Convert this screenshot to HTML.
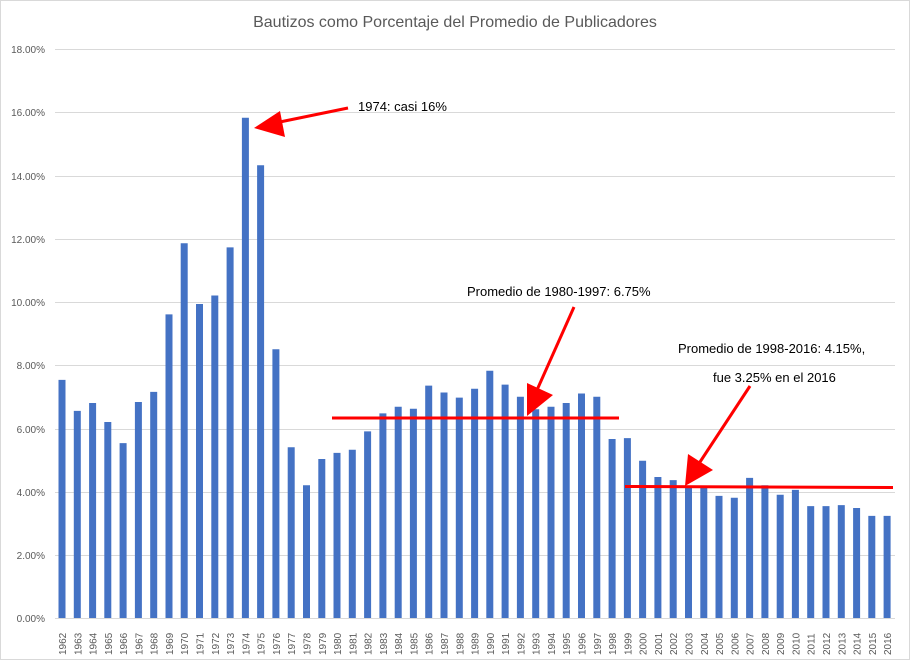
<!DOCTYPE html>
<html><head><meta charset="utf-8"><style>html,body{margin:0;padding:0;background:#fff}svg{display:block}</style></head>
<body>
<svg width="910" height="660" viewBox="0 0 910 660" xmlns="http://www.w3.org/2000/svg" font-family="Liberation Sans, Arial, sans-serif">
<rect x="0.5" y="0.5" width="909" height="659" fill="#fff" stroke="#d9d9d9"/>
<text x="455" y="27" text-anchor="middle" font-size="16" fill="#595959">Bautizos como Porcentaje del Promedio de Publicadores</text>
<g stroke="#d9d9d9" stroke-width="1">
<line x1="55" x2="895" y1="49.5" y2="49.5"/><line x1="55" x2="895" y1="112.5" y2="112.5"/><line x1="55" x2="895" y1="176.5" y2="176.5"/><line x1="55" x2="895" y1="239.5" y2="239.5"/><line x1="55" x2="895" y1="302.5" y2="302.5"/><line x1="55" x2="895" y1="365.5" y2="365.5"/><line x1="55" x2="895" y1="429.5" y2="429.5"/><line x1="55" x2="895" y1="492.5" y2="492.5"/><line x1="55" x2="895" y1="555.5" y2="555.5"/><line x1="55" x2="895" y1="618.5" y2="618.5"/>
</g>
<g font-size="10" fill="#595959" text-anchor="end">
<text x="45" y="53">18.00%</text><text x="45" y="116">16.00%</text><text x="45" y="180">14.00%</text><text x="45" y="243">12.00%</text><text x="45" y="306">10.00%</text><text x="45" y="369">8.00%</text><text x="45" y="433">6.00%</text><text x="45" y="496">4.00%</text><text x="45" y="559">2.00%</text><text x="45" y="622">0.00%</text>
</g>
<g stroke="#4472c4" stroke-width="7">
<line x1="62" x2="62" y1="618" y2="379.9"/>
<line x1="77.3" x2="77.3" y1="618" y2="410.9"/>
<line x1="92.6" x2="92.6" y1="618" y2="403"/>
<line x1="107.8" x2="107.8" y1="618" y2="422"/>
<line x1="123.1" x2="123.1" y1="618" y2="443.1"/>
<line x1="138.4" x2="138.4" y1="618" y2="402"/>
<line x1="153.7" x2="153.7" y1="618" y2="391.9"/>
<line x1="169" x2="169" y1="618" y2="314.4"/>
<line x1="184.2" x2="184.2" y1="618" y2="243.3"/>
<line x1="199.5" x2="199.5" y1="618" y2="304"/>
<line x1="214.8" x2="214.8" y1="618" y2="295.5"/>
<line x1="230.1" x2="230.1" y1="618" y2="247.4"/>
<line x1="245.4" x2="245.4" y1="618" y2="117.8"/>
<line x1="260.6" x2="260.6" y1="618" y2="165.2"/>
<line x1="275.9" x2="275.9" y1="618" y2="349.2"/>
<line x1="291.2" x2="291.2" y1="618" y2="447.3"/>
<line x1="306.5" x2="306.5" y1="618" y2="485.2"/>
<line x1="321.8" x2="321.8" y1="618" y2="459"/>
<line x1="337" x2="337" y1="618" y2="452.9"/>
<line x1="352.3" x2="352.3" y1="618" y2="449.8"/>
<line x1="367.6" x2="367.6" y1="618" y2="431.4"/>
<line x1="382.9" x2="382.9" y1="618" y2="413.4"/>
<line x1="398.2" x2="398.2" y1="618" y2="406.8"/>
<line x1="413.4" x2="413.4" y1="618" y2="408.7"/>
<line x1="428.7" x2="428.7" y1="618" y2="385.6"/>
<line x1="444" x2="444" y1="618" y2="392.5"/>
<line x1="459.3" x2="459.3" y1="618" y2="397.6"/>
<line x1="474.6" x2="474.6" y1="618" y2="388.8"/>
<line x1="489.8" x2="489.8" y1="618" y2="370.7"/>
<line x1="505.1" x2="505.1" y1="618" y2="384.6"/>
<line x1="520.4" x2="520.4" y1="618" y2="396.7"/>
<line x1="535.7" x2="535.7" y1="618" y2="409.3"/>
<line x1="551" x2="551" y1="618" y2="406.8"/>
<line x1="566.2" x2="566.2" y1="618" y2="403"/>
<line x1="581.5" x2="581.5" y1="618" y2="393.5"/>
<line x1="596.8" x2="596.8" y1="618" y2="396.7"/>
<line x1="612.1" x2="612.1" y1="618" y2="439"/>
<line x1="627.4" x2="627.4" y1="618" y2="438.1"/>
<line x1="642.6" x2="642.6" y1="618" y2="460.8"/>
<line x1="657.9" x2="657.9" y1="618" y2="477"/>
<line x1="673.2" x2="673.2" y1="618" y2="480.1"/>
<line x1="688.5" x2="688.5" y1="618" y2="486.8"/>
<line x1="703.8" x2="703.8" y1="618" y2="486.8"/>
<line x1="719" x2="719" y1="618" y2="495.9"/>
<line x1="734.3" x2="734.3" y1="618" y2="497.8"/>
<line x1="749.6" x2="749.6" y1="618" y2="477.9"/>
<line x1="764.9" x2="764.9" y1="618" y2="485.2"/>
<line x1="780.2" x2="780.2" y1="618" y2="494.7"/>
<line x1="795.4" x2="795.4" y1="618" y2="489.9"/>
<line x1="810.7" x2="810.7" y1="618" y2="506.1"/>
<line x1="826" x2="826" y1="618" y2="506.1"/>
<line x1="841.3" x2="841.3" y1="618" y2="505.1"/>
<line x1="856.6" x2="856.6" y1="618" y2="508"/>
<line x1="871.8" x2="871.8" y1="618" y2="515.9"/>
<line x1="887.1" x2="887.1" y1="618" y2="515.9"/>
</g>
<g font-size="10" fill="#595959">
<text transform="translate(66,655) rotate(-90)">1962</text>
<text transform="translate(81.3,655) rotate(-90)">1963</text>
<text transform="translate(96.6,655) rotate(-90)">1964</text>
<text transform="translate(111.8,655) rotate(-90)">1965</text>
<text transform="translate(127.1,655) rotate(-90)">1966</text>
<text transform="translate(142.4,655) rotate(-90)">1967</text>
<text transform="translate(157.7,655) rotate(-90)">1968</text>
<text transform="translate(173,655) rotate(-90)">1969</text>
<text transform="translate(188.2,655) rotate(-90)">1970</text>
<text transform="translate(203.5,655) rotate(-90)">1971</text>
<text transform="translate(218.8,655) rotate(-90)">1972</text>
<text transform="translate(234.1,655) rotate(-90)">1973</text>
<text transform="translate(249.4,655) rotate(-90)">1974</text>
<text transform="translate(264.6,655) rotate(-90)">1975</text>
<text transform="translate(279.9,655) rotate(-90)">1976</text>
<text transform="translate(295.2,655) rotate(-90)">1977</text>
<text transform="translate(310.5,655) rotate(-90)">1978</text>
<text transform="translate(325.8,655) rotate(-90)">1979</text>
<text transform="translate(341,655) rotate(-90)">1980</text>
<text transform="translate(356.3,655) rotate(-90)">1981</text>
<text transform="translate(371.6,655) rotate(-90)">1982</text>
<text transform="translate(386.9,655) rotate(-90)">1983</text>
<text transform="translate(402.2,655) rotate(-90)">1984</text>
<text transform="translate(417.4,655) rotate(-90)">1985</text>
<text transform="translate(432.7,655) rotate(-90)">1986</text>
<text transform="translate(448,655) rotate(-90)">1987</text>
<text transform="translate(463.3,655) rotate(-90)">1988</text>
<text transform="translate(478.6,655) rotate(-90)">1989</text>
<text transform="translate(493.8,655) rotate(-90)">1990</text>
<text transform="translate(509.1,655) rotate(-90)">1991</text>
<text transform="translate(524.4,655) rotate(-90)">1992</text>
<text transform="translate(539.7,655) rotate(-90)">1993</text>
<text transform="translate(555,655) rotate(-90)">1994</text>
<text transform="translate(570.2,655) rotate(-90)">1995</text>
<text transform="translate(585.5,655) rotate(-90)">1996</text>
<text transform="translate(600.8,655) rotate(-90)">1997</text>
<text transform="translate(616.1,655) rotate(-90)">1998</text>
<text transform="translate(631.4,655) rotate(-90)">1999</text>
<text transform="translate(646.6,655) rotate(-90)">2000</text>
<text transform="translate(661.9,655) rotate(-90)">2001</text>
<text transform="translate(677.2,655) rotate(-90)">2002</text>
<text transform="translate(692.5,655) rotate(-90)">2003</text>
<text transform="translate(707.8,655) rotate(-90)">2004</text>
<text transform="translate(723,655) rotate(-90)">2005</text>
<text transform="translate(738.3,655) rotate(-90)">2006</text>
<text transform="translate(753.6,655) rotate(-90)">2007</text>
<text transform="translate(768.9,655) rotate(-90)">2008</text>
<text transform="translate(784.2,655) rotate(-90)">2009</text>
<text transform="translate(799.4,655) rotate(-90)">2010</text>
<text transform="translate(814.7,655) rotate(-90)">2011</text>
<text transform="translate(830,655) rotate(-90)">2012</text>
<text transform="translate(845.3,655) rotate(-90)">2013</text>
<text transform="translate(860.6,655) rotate(-90)">2014</text>
<text transform="translate(875.8,655) rotate(-90)">2015</text>
<text transform="translate(891.1,655) rotate(-90)">2016</text>
</g>
<g stroke="#ff0000" stroke-width="3">
<line x1="332" y1="418" x2="619" y2="418"/>
<line x1="625" y1="486.5" x2="893" y2="487.5"/>
<line x1="348" y1="108" x2="270" y2="124"/>
<line x1="574" y1="307" x2="537" y2="390"/>
<line x1="750" y1="386" x2="698" y2="465"/>
</g>
<g fill="#ff0000">
<polygon points="254,128 280,111 285,137"/>
<polygon points="527,416 527,383 553,395"/>
<polygon points="685,486 688,454 713,470"/>
</g>
<g font-size="13" fill="#000">
<text x="358" y="111">1974: casi 16%</text>
<text x="467" y="296">Promedio de 1980-1997: 6.75%</text>
<text x="678" y="353">Promedio de 1998-2016: 4.15%,</text>
<text x="713" y="382">fue 3.25% en el 2016</text>
</g>
</svg>
</body></html>
